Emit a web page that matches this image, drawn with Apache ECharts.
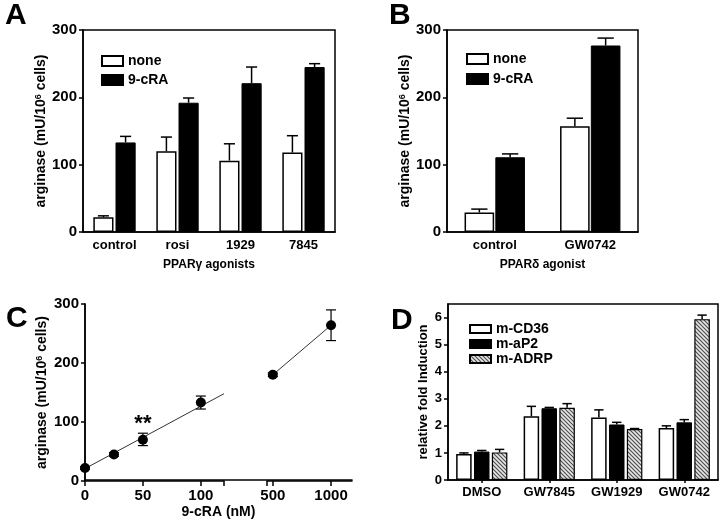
<!DOCTYPE html>
<html><head><meta charset="utf-8">
<script src="https://cdn.jsdelivr.net/npm/echarts@6/dist/echarts.min.js"></script>
<style>html,body{margin:0;padding:0;background:#fff}#c{width:720px;height:520px}</style>
</head><body><div id="c"></div><script>
const FONT = '"Liberation Sans", Arial, Helvetica, sans-serif';

// ---- Panel A: PPARgamma agonists ----
const catsA = ['control', 'rosi', '1929', '7845'];
const noneA = [22, 120, 106, 118];
const noneAErr = [24, 141, 131, 143];
const craA = [133, 192, 221, 245];
const craAErr = [142, 199, 245, 250];

// ---- Panel B: PPARdelta agonist ----
const catsB = ['control', 'GW0742'];
const noneB = [29, 157];
const noneBErr = [34, 169];
const craB = [111, 277];
const craBErr = [116, 288];

// ---- Panel C: 9-cRA dose response ----
const doseLow = [0, 25, 50, 100];
const argLow = [22, 45, 70, 133];
const argLowErrLo = [20, 42, 60, 122];
const argLowErrHi = [24, 48, 81, 144];
const sigLow = ['', '', '**', ''];
const fitX = [0, 120];
const fitY = [21, 148];
const doseHigh = [500, 1000];
const argHigh = [180, 264];
const argHighErrLo = [177, 238];
const argHighErrHi = [183, 290];
const ticksLow = [0, 50, 100, 120];
const labelsLow = [0, 50, 100];
const ticksHigh = [450, 500, 1000];
const labelsHigh = [500, 1000];

// ---- Panel D: relative fold induction ----
const catsD = ['DMSO', 'GW7845', 'GW1929', 'GW0742'];
const cd36 = [0.96, 2.35, 2.31, 1.92];
const cd36Err = [1.0, 2.72, 2.59, 2.0];
const ap2 = [1.05, 2.65, 2.05, 2.13];
const ap2Err = [1.09, 2.68, 2.13, 2.23];
const adrp = [1.02, 2.67, 1.88, 5.94];
const adrpErr = [1.13, 2.82, 1.9, 6.09];
const ticksD = [0, 1, 2, 3, 4, 5, 6];

function hatch() {
  const c = document.createElement('canvas'); c.width = 4; c.height = 4;
  const g = c.getContext('2d');
  g.fillStyle = '#e6e6e6'; g.fillRect(0, 0, 4, 4);
  g.strokeStyle = '#505050'; g.lineWidth = 1.2;
  g.beginPath();
  g.moveTo(-1, -1); g.lineTo(5, 5);
  g.moveTo(-1, 3); g.lineTo(1, 5);
  g.moveTo(3, -1); g.lineTo(5, 1);
  g.stroke();
  return c;
}

const txt = (size, extra) => Object.assign({ fontFamily: FONT, fontWeight: 'bold', fontSize: size, color: '#000' }, extra || {});
const axLine = { show: true, lineStyle: { color: '#000', width: 1.5 } };
const tickOut = (len, extra) => Object.assign({ show: true, inside: false, length: len, lineStyle: { color: '#000', width: 1.5 } }, extra || {});
const supName = 'arginase (mU/10{sup|6} cells)';
const supRich = { sup: { fontFamily: FONT, fontWeight: 'bold', fontSize: 9, color: '#000', verticalAlign: 'top', lineHeight: 14 } };
const plain = v => String(v);

function barErr(nBars, idx, bwPct, gapPct, capFrac) {
  return function (params, api) {
    const cat = api.value(0), v = api.value(1), e = api.value(2);
    const band = api.size([1, 0])[0];
    const bw = band * bwPct, gap = bw * gapPct;
    const total = nBars * bw + (nBars - 1) * gap;
    const off = -total / 2 + bw / 2 + idx * (bw + gap);
    const p0 = api.coord([cat, v]), p1 = api.coord([cat, e]);
    const x = p0[0] + off, cw = bw * capFrac / 2;
    const st = { stroke: '#000', lineWidth: 1.5 };
    return { type: 'group', children: [
      { type: 'line', shape: { x1: x, y1: p0[1], x2: x, y2: p1[1] }, style: st },
      { type: 'line', shape: { x1: x - cw, y1: p1[1], x2: x + cw, y2: p1[1] }, style: st }
    ] };
  };
}
function xyErr(params, api) {
  const x = api.value(0), lo = api.value(1), hi = api.value(2);
  const a = api.coord([x, lo]), b = api.coord([x, hi]);
  const cw = 5;
  const st = { stroke: '#000', lineWidth: 1.2 };
  return { type: 'group', children: [
    { type: 'line', shape: { x1: a[0], y1: a[1], x2: b[0], y2: b[1] }, style: st },
    { type: 'line', shape: { x1: a[0] - cw, y1: a[1], x2: a[0] + cw, y2: a[1] }, style: st },
    { type: 'line', shape: { x1: b[0] - cw, y1: b[1], x2: b[0] + cw, y2: b[1] }, style: st }
  ] };
}

const white = { color: '#fff', borderColor: '#000', borderWidth: 1.5 };
const black = { color: '#000', borderColor: '#000', borderWidth: 1 };
const hatched = { color: { image: hatch(), repeat: 'repeat' }, borderColor: '#000', borderWidth: 1.2 };
const dot = { color: '#000', opacity: 1 };

const gridBox = { show: true, borderColor: '#000', borderWidth: 1.5, backgroundColor: 'transparent' };

const option = {
  animation: false,
  backgroundColor: '#fff',
  title: [
    { text: 'A', left: 0, top: -4, textStyle: txt(30) },
    { text: 'B', left: 384, top: -4, textStyle: txt(30) },
    { text: 'C', left: 1, top: 299, textStyle: txt(30) },
    { text: 'D', left: 386, top: 301, textStyle: txt(30) }
  ],
  legend: [
    { data: ['none', '9-cRA'], left: 96, top: 49, orient: 'vertical', icon: 'rect', itemWidth: 21, itemHeight: 10, itemGap: 5, textStyle: txt(14), selectedMode: false },
    { data: ['none', '9-cRA'], left: 461, top: 47, orient: 'vertical', icon: 'rect', itemWidth: 21, itemHeight: 10, itemGap: 6, textStyle: txt(14), selectedMode: false },
    { data: ['m-CD36', 'm-aP2', 'm-ADRP'], left: 464, top: 317, orient: 'vertical', icon: 'rect', itemWidth: 21, itemHeight: 8, itemGap: 1, textStyle: txt(14), selectedMode: false }
  ],
  grid: [
    Object.assign({ left: 83, top: 30, width: 252, height: 202 }, gridBox),
    Object.assign({ left: 447, top: 30, width: 191, height: 202 }, gridBox),
    { left: 85, top: 304, width: 139, height: 177 },
    { left: 267, top: 304, width: 85, height: 177 },
    { left: 85, top: 304, width: 267, height: 177 },
    Object.assign({ left: 448, top: 304, width: 270, height: 176 }, gridBox)
  ],
  xAxis: [
    { type: 'category', gridIndex: 0, data: catsA, axisLine: axLine, axisTick: { show: false }, axisLabel: txt(13, { margin: 7 }),
      name: 'PPARγ agonists', nameLocation: 'middle', nameGap: 27, nameTextStyle: txt(12) },
    { type: 'category', gridIndex: 1, data: catsB, axisLine: axLine, axisTick: { show: false }, axisLabel: txt(13, { margin: 7 }),
      name: 'PPARδ agonist', nameLocation: 'middle', nameGap: 27, nameTextStyle: txt(12) },
    { type: 'value', gridIndex: 2, min: 0, max: 120, axisLine: axLine, splitLine: { show: false },
      axisTick: tickOut(5, { customValues: ticksLow }), axisLabel: txt(15, { margin: 7, customValues: labelsLow, formatter: plain }) },
    { type: 'value', gridIndex: 3, min: 450, max: 1180, axisLine: axLine, splitLine: { show: false },
      axisTick: tickOut(5, { customValues: ticksHigh }), axisLabel: txt(15, { margin: 7, customValues: labelsHigh, formatter: plain }) },
    { type: 'value', gridIndex: 4, position: 'top', min: 0, max: 1, axisLine: axLine, axisTick: { show: false }, axisLabel: { show: false }, splitLine: { show: false } },
    { type: 'value', gridIndex: 4, position: 'bottom', min: 0, max: 1, axisLine: { show: false }, axisTick: { show: false }, axisLabel: { show: false }, splitLine: { show: false },
      name: '9-cRA (nM)', nameLocation: 'middle', nameGap: 25, nameTextStyle: txt(14) },
    { type: 'category', gridIndex: 5, data: catsD, axisLine: axLine, axisTick: tickOut(3, { alignWithLabel: true }), axisLabel: txt(13, { margin: 6 }) }
  ],
  yAxis: [
    { type: 'value', gridIndex: 0, min: 0, max: 300, interval: 100, axisLine: axLine, axisTick: tickOut(4), splitLine: { show: false },
      axisLabel: txt(15, { margin: 6 }), name: supName, nameLocation: 'middle', nameGap: 33, nameTextStyle: txt(14, { rich: supRich }) },
    { type: 'value', gridIndex: 1, min: 0, max: 300, interval: 100, axisLine: axLine, axisTick: tickOut(4), splitLine: { show: false },
      axisLabel: txt(15, { margin: 6 }), name: supName, nameLocation: 'middle', nameGap: 33, nameTextStyle: txt(14, { rich: supRich }) },
    { type: 'value', gridIndex: 2, min: 0, max: 300, interval: 100, axisLine: axLine, axisTick: tickOut(4), splitLine: { show: false },
      axisLabel: txt(15, { margin: 6 }), name: supName, nameLocation: 'middle', nameGap: 36, nameTextStyle: txt(14, { rich: supRich }) },
    { type: 'value', gridIndex: 3, min: 0, max: 300, show: false },
    { type: 'value', gridIndex: 4, position: 'right', min: 0, max: 1, axisLine: axLine, axisTick: { show: false }, axisLabel: { show: false }, splitLine: { show: false } },
    { type: 'value', gridIndex: 5, min: 0, max: 6.5, axisLine: axLine, splitLine: { show: false },
      axisTick: tickOut(4, { customValues: ticksD }), axisLabel: txt(13, { margin: 6, customValues: ticksD }),
      name: 'relative fold Induction', nameLocation: 'middle', nameGap: 18, nameTextStyle: txt(13) }
  ],
  series: [
    // A
    { type: 'bar', name: 'none', xAxisIndex: 0, yAxisIndex: 0, data: noneA, itemStyle: white, barWidth: '32%', barGap: '10%' },
    { type: 'bar', name: '9-cRA', xAxisIndex: 0, yAxisIndex: 0, data: craA, itemStyle: black, barWidth: '32%', barGap: '10%' },
    { type: 'custom', xAxisIndex: 0, yAxisIndex: 0, renderItem: barErr(2, 0, 0.32, 0.1, 0.55), data: noneA.map((v, i) => [i, v, noneAErr[i]]), z: 3 },
    { type: 'custom', xAxisIndex: 0, yAxisIndex: 0, renderItem: barErr(2, 1, 0.32, 0.1, 0.55), data: craA.map((v, i) => [i, v, craAErr[i]]), z: 3 },
    // B
    { type: 'bar', name: 'none', xAxisIndex: 1, yAxisIndex: 1, data: noneB, itemStyle: white, barWidth: '31%', barGap: '4%' },
    { type: 'bar', name: '9-cRA', xAxisIndex: 1, yAxisIndex: 1, data: craB, itemStyle: black, barWidth: '31%', barGap: '4%' },
    { type: 'custom', xAxisIndex: 1, yAxisIndex: 1, renderItem: barErr(2, 0, 0.31, 0.04, 0.55), data: noneB.map((v, i) => [i, v, noneBErr[i]]), z: 3 },
    { type: 'custom', xAxisIndex: 1, yAxisIndex: 1, renderItem: barErr(2, 1, 0.31, 0.04, 0.55), data: craB.map((v, i) => [i, v, craBErr[i]]), z: 3 },
    // C low segment
    { type: 'line', xAxisIndex: 2, yAxisIndex: 2, data: fitX.map((x, i) => [x, fitY[i]]), symbol: 'none', lineStyle: { color: '#333', width: 1 }, clip: false, z: 2 },
    { type: 'custom', xAxisIndex: 2, yAxisIndex: 2, renderItem: xyErr, data: doseLow.map((x, i) => [x, argLowErrLo[i], argLowErrHi[i]]), clip: false, z: 3 },
    { type: 'scatter', xAxisIndex: 2, yAxisIndex: 2, data: doseLow.map((x, i) => [x, argLow[i]]), symbolSize: 10, itemStyle: dot, clip: false, z: 4,
      label: { show: true, position: 'top', distance: 0, formatter: p => sigLow[p.dataIndex], ...txt(22), opacity: 1 } },
    // C high segment
    { type: 'line', xAxisIndex: 3, yAxisIndex: 3, data: doseHigh.map((x, i) => [x, argHigh[i]]), symbol: 'none', lineStyle: { color: '#333', width: 1 }, clip: false, z: 2 },
    { type: 'custom', xAxisIndex: 3, yAxisIndex: 3, renderItem: xyErr, data: doseHigh.map((x, i) => [x, argHighErrLo[i], argHighErrHi[i]]), clip: false, z: 3 },
    { type: 'scatter', xAxisIndex: 3, yAxisIndex: 3, data: doseHigh.map((x, i) => [x, argHigh[i]]), symbolSize: 10, itemStyle: dot, clip: false, z: 4 },
    // D
    { type: 'bar', name: 'm-CD36', xAxisIndex: 6, yAxisIndex: 5, data: cd36, itemStyle: white, barWidth: '23%', barGap: '15%' },
    { type: 'bar', name: 'm-aP2', xAxisIndex: 6, yAxisIndex: 5, data: ap2, itemStyle: black, barWidth: '23%', barGap: '15%' },
    { type: 'bar', name: 'm-ADRP', xAxisIndex: 6, yAxisIndex: 5, data: adrp, itemStyle: hatched, barWidth: '23%', barGap: '15%' },
    { type: 'custom', xAxisIndex: 6, yAxisIndex: 5, renderItem: barErr(3, 0, 0.23, 0.15, 0.6), data: cd36.map((v, i) => [i, v, cd36Err[i]]), z: 3 },
    { type: 'custom', xAxisIndex: 6, yAxisIndex: 5, renderItem: barErr(3, 1, 0.23, 0.15, 0.6), data: ap2.map((v, i) => [i, v, ap2Err[i]]), z: 3 },
    { type: 'custom', xAxisIndex: 6, yAxisIndex: 5, renderItem: barErr(3, 2, 0.23, 0.15, 0.6), data: adrp.map((v, i) => [i, v, adrpErr[i]]), z: 3 }
  ]
};
const chart = echarts.init(document.getElementById('c'), null, { renderer: 'canvas' });
chart.setOption(option);
</script></body></html>
